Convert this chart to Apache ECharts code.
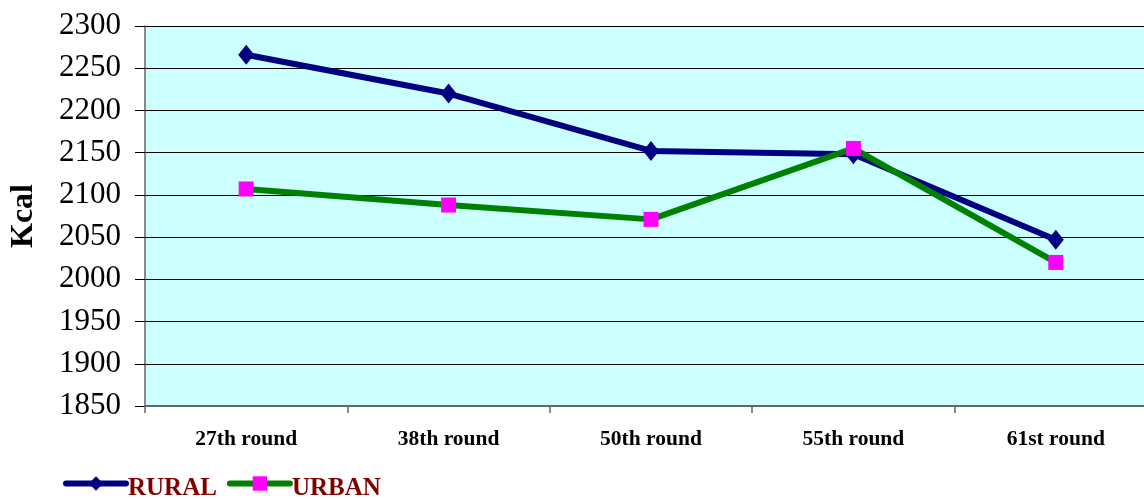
<!DOCTYPE html>
<html><head><meta charset="utf-8">
<script src="https://cdn.jsdelivr.net/npm/echarts@6/dist/echarts.min.js"></script>
<style>html,body{margin:0;padding:0;background:#fff}#c{width:1144px;height:499px}</style>
</head><body><div id="c"></div>
<script>
var categories = ['27th round', '38th round', '50th round', '55th round', '61st round'];
var rural = [2266, 2220, 2152, 2148, 2047];
var urban = [2107, 2088, 2071, 2155, 2020];
var yTicks = {min: 1850, max: 2300, interval: 50};

var chart = echarts.init(document.getElementById('c'));
chart.setOption({
  animation: false,
  grid: {left: 145, width: 1012, top: 26, height: 380, show: true, backgroundColor: '#CCFFFF', borderWidth: 0,
         containLabel: false, outerBoundsMode: 'none'},
  legend: {
    left: 58, top: 471, itemWidth: 60, itemHeight: 18, itemGap: 10,
    formatter: '{a|{name}}',
    textStyle: {fontFamily: 'Liberation Serif', fontWeight: 'bold', fontSize: 25, color: '#800000', padding: [0,0,0,-3],
      rich: {a: {fontFamily: 'Liberation Serif', fontWeight: 'bold', fontSize: 25, color: '#800000', padding: [10,0,0,0]}}},
    data: [
      {name: 'RURAL', lineStyle: {width: 6, cap: 'round'}},
      {name: 'URBAN', lineStyle: {width: 6, cap: 'round'}}
    ]
  },
  xAxis: {
    type: 'category', data: categories, boundaryGap: true,
    axisLine: {lineStyle: {color: '#666666', width: 2}},
    axisTick: {show: true, length: 7, lineStyle: {color: '#666666', width: 1.5}},
    axisLabel: {margin: 22, fontFamily: 'Liberation Serif', fontWeight: 'bold', fontSize: 21.5, color: '#000'}
  },
  yAxis: {
    type: 'value', min: yTicks.min, max: yTicks.max, interval: yTicks.interval,
    name: 'Kcal', nameLocation: 'middle', nameGap: 105, nameRotate: 90,
    nameTextStyle: {fontFamily: 'Liberation Serif', fontWeight: 'bold', fontSize: 32, color: '#000'},
    axisLine: {show: true, lineStyle: {color: '#666666', width: 1.5}},
    axisTick: {show: true, length: 10, lineStyle: {color: '#000', width: 1}},
    axisLabel: {margin: 24, fontFamily: 'Liberation Serif', fontSize: 31, color: '#000',
      formatter: function (v) { return String(v); }},
    splitLine: {show: true, lineStyle: {color: '#000', width: 1}}
  },
  series: [
    {name: 'RURAL', type: 'line', data: rural, symbol: 'diamond', symbolSize: [16, 20],
     lineStyle: {color: '#000080', width: 6}, itemStyle: {color: '#000080'}},
    {name: 'URBAN', type: 'line', data: urban, symbol: 'rect', symbolSize: 15,
     lineStyle: {color: '#008000', width: 6}, itemStyle: {color: '#FF00FF'}}
  ]
});
</script></body></html>
